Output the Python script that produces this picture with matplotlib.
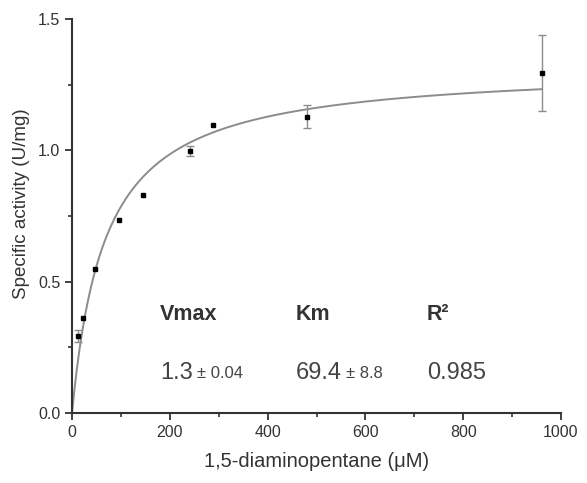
import numpy as np
import matplotlib.pyplot as plt
from matplotlib.ticker import MultipleLocator, FormatStrFormatter

plt.rcParams['font.family'] = ['Liberation Sans', 'DejaVu Sans']

# measured data
conc = [12, 23, 48, 96, 145, 241, 288, 480, 961]
activity = [0.294, 0.362, 0.547, 0.735, 0.83, 0.997, 1.096, 1.128, 1.293]
err = [0.023, 0.0, 0.0, 0.0, 0.0, 0.02, 0.0, 0.043, 0.145]

# Michaelis-Menten fit curve
vmax_fit = 1.32
km_fit = 68.0

# fit results shown in the table
headers = ['Vmax', 'Km', 'R²']
main_vals = ['1.3', '69.4', '0.985']
pm_vals = ['± 0.04', '± 8.8', '']

dark = '#333333'
grey = '#8c8c8c'

fig = plt.figure(figsize=(5.87, 4.83), dpi=100)
ax = fig.add_axes([0.1227, 0.1449, 0.833, 0.8158])

xs = np.linspace(0, conc[-1], 400)
ax.plot(xs, vmax_fit * xs / (km_fit + xs), color=grey, lw=1.4, zorder=2)

# only points with a visible error bar
eb = [i for i, e in enumerate(err) if e > 0]
ax.errorbar([conc[i] for i in eb], [activity[i] for i in eb],
            yerr=[err[i] for i in eb], fmt='none', ecolor=grey, elinewidth=1.0,
            capsize=3, capthick=1.0, zorder=3)
ax.plot(conc, activity, 's', color='black', ms=2.6, zorder=4)

ax.set_xlim(0, 1000)
ax.set_ylim(0, 1.5)
ax.xaxis.set_major_locator(MultipleLocator(200))
ax.xaxis.set_minor_locator(MultipleLocator(100))
ax.yaxis.set_major_locator(MultipleLocator(0.5))
ax.yaxis.set_minor_locator(MultipleLocator(0.25))
ax.yaxis.set_major_formatter(FormatStrFormatter('%.1f'))

for s in ['top', 'right']:
    ax.spines[s].set_visible(False)
for s in ['left', 'bottom']:
    ax.spines[s].set_color(dark)
    ax.spines[s].set_linewidth(1.5)

ax.tick_params(which='major', length=5, width=1.3, color=dark, labelcolor=dark,
               labelsize=11.5)
ax.tick_params(which='minor', length=3, width=1.2, color=dark)

ax.set_xlabel('1,5-diaminopentane (μM)', fontsize=14.5, color=dark, labelpad=9)
ax.set_ylabel('Specific activity (U/mg)', fontsize=13.5, color=dark, labelpad=6)
ax.yaxis.set_label_coords(-0.085, 0.53)

col_x = [180, 458, 726]
for x, h, v, pm in zip(col_x, headers, main_vals, pm_vals):
    ax.text(x, 0.375, h, fontsize=15.5, fontweight='bold', color=dark,
            ha='left', va='center')
    t = ax.text(x, 0.152, v, fontsize=17, color='#444444', ha='left', va='center')
    if pm:
        ax.annotate(pm, xy=(1, 0), xycoords=t, xytext=(3, 2),
                    textcoords='offset points', fontsize=12, color='#444444',
                    ha='left', va='bottom')

fig.savefig('out.png', dpi=100)
